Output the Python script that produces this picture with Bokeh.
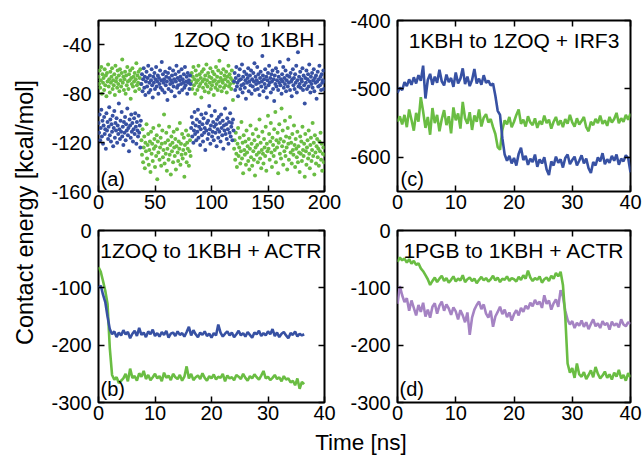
import math
from bokeh.plotting import figure
from bokeh.models import Label, Range1d, LinearAxis, FixedTicker, CustomJSTickFormatter
from bokeh.layouts import row, column
from bokeh.embed import file_html
from bokeh.resources import INLINE

FONT = "Liberation Sans"
BLUE = "#3751a3"
GREEN = "#6abd43"
PURPLE = "#a583c3"

# ---------------- data ----------------
# (a) 1ZOQ to 1KBH, sampled every 0.5 ns from 0 to 200 ns
a_step = 0.5
a_green = [
    -66,-72,-61,-75,-69,-58,-80,-64,-71,-67,-77,-60,-73,-65,-82,-63,-70,-56,-74,-68,
    -79,-62,-71,-66,-59,-76,-69,-73,-64,-81,-57,-70,-67,-75,-61,-72,-65,-78,-60,-69,
    -74,-63,-52,-71,-66,-77,-68,-62,-80,-65,-73,-58,-70,-76,-64,-69,-61,-84,-67,-72,
    -59,-74,-66,-70,-63,-78,-68,-55,-73,-65,-71,-62,-76,-67,-60,-72,
    -118,-130,-109,-136,-124,-115,-141,-120,-127,-105,-133,-122,-113,-138,-126,-119,-144,-111,-129,-121,
    -135,-108,-125,-117,-140,-123,-131,-114,-150,-119,-128,-106,-134,-124,-116,-139,-121,-110,-132,-126,
    -97,-137,-120,-129,-112,-143,-125,-118,-134,-107,-130,-122,-146,-115,-127,-120,-136,-111,-124,-131,
    -117,-142,-123,-109,-128,-135,-119,-125,-104,-138,-121,-130,-113,-133,-126,-116,-148,-122,-129,-110,
    -136,-120,-125,-114,-139,-127,-118,-131,
    -70,-63,-76,-66,-58,-73,-68,-80,-61,-71,-65,-77,-69,-57,-74,-64,-72,-67,-83,-62,
    -70,-75,-60,-68,-78,-65,-72,-56,-69,-74,-63,-79,-66,-71,-59,-76,-67,-73,-62,-70,
    -81,-64,-69,-75,-58,-72,-66,-77,-61,-70,-53,-74,-67,-63,-78,-69,-71,-60,-75,-65,
    -68,-73,-62,-79,-66,-70,-57,-74,-64,-72,-67,-76,-61,-69,-85,-71,
    -125,-118,-134,-112,-129,-140,-121,-108,-131,-124,-116,-137,-127,-103,-133,-120,-145,-114,-126,-130,
    -119,-138,-110,-128,-123,-135,-117,-142,-125,-106,-132,-121,-139,-113,-127,-134,-118,-147,-124,-109,
    -130,-122,-136,-115,-128,-101,-133,-120,-141,-126,-111,-129,-137,-117,-124,-131,-107,-143,-121,-127,
    -98,-125,-113,-134,-119,-104,-128,-140,-116,-122,-131,-109,-126,-95,-136,-118,-124,-112,-145,-120,
    -105,-129,-117,-133,-92,-123,-110,-138,-119,-127,-102,-131,-115,-124,-142,-108,-121,-134,-116,-99,
    -128,-120,-137,-113,-126,-130,-106,-122,-140,-117,-125,-132,-111,-136,-123,-128,-144,-115,-129,-119,
    -135,-107,-126,-131,-121,-148,-113,-127,-138,-124,-118,-133,-110,-129,-141,-122,-116,-135,-126,-104,
    -131,-120,-146,-114,-128,-137,-123,-117,-132,-125,-139,-119,-127,-112,-134,-121,-143,-129,-124,-136,
    -130,
]
a_blue = [
    -104,-112,-97,-118,-108,-93,-115,-102,-121,-106,-99,-113,-109,-125,-96,-110,-103,-117,-107,-91,
    -114,-101,-119,-105,-111,-98,-123,-108,-94,-116,-104,-110,-100,-120,-106,-113,-88,-109,-117,-102,
    -111,-95,-115,-107,-122,-103,-112,-99,-118,-105,-110,-92,-114,-108,-127,-101,-106,-116,-97,-111,
    -104,-119,-109,-100,-113,-96,-107,-121,-103,-110,-115,-98,-112,-106,-124,-102,
    -72,-64,-78,-68,-59,-75,-66,-81,-70,-62,-74,-67,-57,-79,-71,-65,-77,-69,-60,-73,
    -83,-66,-71,-63,-76,-68,-58,-74,-70,-65,-80,-67,-72,-61,-75,-69,-54,-77,-64,-71,
    -68,-79,-62,-73,-66,-70,-85,-63,-76,-67,-59,-72,-69,-78,-65,-71,-61,-74,-68,-82,
    -64,-70,-57,-75,-67,-73,-62,-79,-69,-66,-72,-60,-77,-68,-71,-64,-75,-58,-73,-70,
    -66,-80,-63,-71,-69,-76,-65,-72,
    -108,-99,-115,-104,-120,-110,-95,-113,-106,-118,-101,-111,-93,-116,-107,-103,-122,-109,-97,-114,
    -105,-119,-100,-112,-108,-126,-96,-110,-104,-117,-102,-113,-90,-109,-121,-106,-98,-115,-111,-103,
    -118,-107,-94,-112,-105,-123,-101,-109,-116,-99,-111,-104,-119,-97,-108,-114,-102,-125,-106,-110,
    -92,-113,-105,-117,-100,-109,-121,-103,-112,-96,-115,-107,-104,-118,-101,-110,
    -70,-63,-77,-67,-58,-74,-71,-82,-65,-69,-60,-76,-68,-73,-56,-79,-66,-72,-62,-75,
    -69,-84,-64,-71,-67,-59,-78,-70,-65,-73,-61,-80,-68,-74,-63,-70,-55,-77,-66,-72,
    -69,-58,-76,-64,-71,-81,-67,-62,-74,-70,-49,-65,-78,-68,-72,-60,-75,-66,-83,-69,
    -63,-73,-57,-71,-67,-79,-64,-70,-61,-76,-68,-86,-65,-72,-59,-74,-69,-62,-77,-66,
    -71,-54,-73,-68,-80,-64,-70,-58,-75,-67,-72,-61,-78,-69,-65,-74,-52,-71,-66,-77,
    -63,-70,-82,-68,-60,-73,-67,-76,-64,-71,-57,-79,-69,-46,-74,-66,-72,-62,-75,-68,
    -70,-59,-77,-65,-73,-88,-67,-71,-61,-76,-68,-64,-74,-56,-70,-79,-66,-72,-63,-75,
    -69,-60,-78,-67,-71,-65,-84,-70,-62,-74,-68,-57,-73,-66,-77,-64,-71,-69,-61,-76,
    -70,
]

# (b), (c), (d): sampled every 0.4 ns
line_step = 0.4
c_blue = [
    -506,-498,-502,-490,-496,-486,-494,-483,-492,-480,-488,-466,-514,-487,-478,-494,-482,-491,-472,-489,
    -495,-479,-490,-484,-497,-476,-492,-485,-470,-493,-482,-496,-487,-471,-492,-485,-494,-480,-491,-488,
    -495,-492,-510,-532,-538,-572,-596,-605,-598,-609,-601,-612,-595,-586,-604,-598,-611,-602,-607,-596,
    -614,-603,-609,-600,-618,-626,-606,-612,-599,-608,-603,-615,-601,-596,-610,-604,-599,-612,-605,-597,
    -609,-602,-616,-623,-607,-612,-600,-606,-594,-610,-603,-608,-598,-605,-596,-611,-602,-606,-597,-601,
    -622,
]
c_green = [
    -548,-540,-552,-538,-556,-530,-545,-561,-535,-548,-512,-533,-557,-541,-567,-528,-550,-538,-562,-544,
    -531,-553,-540,-565,-527,-546,-536,-558,-519,-543,-551,-534,-560,-539,-548,-530,-555,-542,-537,-549,
    -544,-556,-566,-585,-589,-560,-546,-552,-541,-556,-548,-538,-530,-551,-545,-555,-540,-549,-553,-543,
    -557,-547,-552,-539,-550,-545,-558,-548,-541,-553,-546,-556,-544,-551,-538,-549,-555,-543,-552,-547,
    -541,-556,-562,-548,-553,-544,-550,-539,-551,-546,-554,-541,-549,-544,-535,-550,-543,-548,-538,-545,
    -536,
]
b_blue = [
    -100,-96,-112,-125,-150,-172,-181,-176,-186,-178,-183,-174,-181,-177,-188,-180,-175,-184,-170,-182,
    -178,-186,-176,-181,-173,-184,-179,-185,-177,-182,-175,-187,-180,-178,-184,-176,-182,-179,-185,-177,
    -168,-183,-174,-181,-186,-178,-182,-176,-184,-180,-187,-179,-183,-164,-178,-185,-180,-176,-183,-178,
    -186,-181,-175,-183,-179,-185,-177,-182,-187,-178,-181,-175,-184,-179,-183,-176,-181,-172,-184,-178,
    -186,-180,-177,-183,-188,-179,-182,-176,-185,-180,-183,-181,
]
b_green = [
    -64,-72,-88,-105,-128,-205,-252,-260,-256,-266,-262,-258,-250,-263,-241,-257,-254,-262,-249,-255,
    -245,-259,-252,-261,-256,-250,-258,-254,-263,-248,-257,-253,-261,-250,-256,-259,-252,-262,-255,-237,
    -258,-250,-261,-256,-253,-259,-249,-257,-262,-254,-258,-251,-260,-255,-257,-250,-263,-253,-258,-256,
    -261,-252,-255,-259,-250,-257,-262,-254,-258,-251,-256,-260,-253,-245,-258,-255,-261,-257,-252,-259,
    -256,-263,-254,-260,-258,-265,-262,-270,-258,-276,-264,-268,
]
d_green = [
    -55,-47,-52,-49,-56,-50,-58,-53,-60,-57,-66,-71,-78,-85,-95,-88,-82,-90,-84,-79,
    -88,-83,-91,-86,-80,-89,-84,-87,-78,-90,-85,-82,-88,-84,-92,-86,-81,-87,-83,-89,
    -85,-79,-87,-82,-90,-84,-86,-80,-88,-83,-85,-89,-81,-86,-78,-84,-70,-82,-88,-83,
    -86,-80,-91,-85,-82,-88,-79,-84,-74,-80,-72,-95,-150,-232,-248,-240,-257,-232,-251,-255,
    -247,-259,-252,-244,-256,-238,-250,-258,-253,-246,-257,-251,-260,-248,-255,-243,-258,-252,-262,-249,
    -256,
]
d_purple = [
    -128,-97,-113,-125,-118,-140,-122,-135,-148,-130,-142,-126,-150,-138,-152,-133,-127,-145,-131,-124,
    -140,-129,-136,-147,-134,-141,-155,-139,-148,-160,-143,-182,-152,-138,-130,-124,-137,-129,-145,-152,
    -140,-168,-150,-142,-133,-146,-138,-151,-143,-157,-146,-139,-148,-135,-142,-131,-137,-126,-132,-121,
    -129,-124,-135,-113,-128,-122,-138,-127,-120,-133,-104,-115,-140,-156,-164,-158,-170,-161,-166,-157,
    -168,-160,-172,-163,-155,-167,-162,-170,-158,-165,-161,-173,-159,-166,-162,-169,-155,-164,-167,-160,
    -163,
]

a_xticks = [0, 50, 100, 150, 200]
a_yticks = [-160, -120, -80, -40]
c_xticks = [0, 10, 20, 30, 40]
c_yticks = [-600, -500, -400]
bd_xticks = [0, 10, 20, 30, 40]
bd_yticks = [-300, -200, -100, 0]


def times(vals, step):
    return [i * step for i in range(len(vals))]


# ---------------- styling helpers ----------------
def style_axis(ax, ticks, standoff):
    ax.ticker = FixedTicker(ticks=ticks)
    ax.formatter = CustomJSTickFormatter(code="return String(tick)")
    ax.major_label_text_font = FONT
    ax.major_label_text_font_size = "20px"
    ax.major_label_text_color = "black"
    ax.major_label_standoff = standoff
    ax.major_tick_in = 6
    ax.major_tick_out = 0
    ax.major_tick_line_width = 1.5
    ax.major_tick_line_color = "black"
    ax.minor_tick_line_color = None
    ax.axis_line_color = None


def mirror(p, ticks, side):
    ax = LinearAxis(ticker=FixedTicker(ticks=ticks),
                    formatter=CustomJSTickFormatter(code="return ''"),
                    major_label_text_font_size="0px", major_label_standoff=0,
                    major_tick_in=6, major_tick_out=0, major_tick_line_width=1.5,
                    major_tick_line_color="black",
                    minor_tick_line_color=None, axis_line_color=None)
    p.add_layout(ax, side)


def panel(width, height, bl, br, bt, bb, xr, yr, xt, yt):
    p = figure(width=width, height=height, x_range=Range1d(*xr), y_range=Range1d(*yr),
               min_border_left=bl, min_border_right=br, min_border_top=bt, min_border_bottom=bb,
               output_backend="svg", toolbar_location=None)
    p.grid.visible = False
    p.outline_line_color = "black"
    p.outline_line_width = 2
    p.background_fill_color = "white"
    p.border_fill_color = "white"
    style_axis(p.xaxis[0], xt, 3)
    style_axis(p.yaxis[0], yt, 7)
    mirror(p, xt, "above")
    mirror(p, yt, "right")
    return p


def title(p, text, x, y, align, xoff, yoff):
    p.add_layout(Label(x=x, y=y, text=text, text_align=align, text_baseline="alphabetic",
                       x_offset=xoff, y_offset=yoff, text_font=FONT, text_font_size="21px",
                       text_color="black"))


def tag(p, text, x, y, xoff, yoff):
    p.add_layout(Label(x=x, y=y, text=text, text_align="left", text_baseline="alphabetic",
                       x_offset=xoff, y_offset=yoff, text_font=FONT, text_font_size="20px",
                       text_color="black"))


# ---------------- panels ----------------
pa = panel(298, 220, 48, 22, 20, 29, (0, 200), (-160, -20), a_xticks, a_yticks)
pa.scatter(times(a_green, a_step), a_green, size=4, fill_color=GREEN, line_color=None)
pa.scatter(times(a_blue, a_step), a_blue, size=4, fill_color=BLUE, line_color=None)
title(pa, "1ZOQ to 1KBH", 200, -20, "right", -10, -19)
tag(pa, "(a)", 0, -160, 2, 13)

pc = panel(298, 220, 51, 14, 20, 29, (0, 40), (-650, -400), c_xticks, c_yticks)
pc.line(times(c_green, line_step), c_green, line_color=GREEN, line_width=2.6)
pc.line(times(c_blue, line_step), c_blue, line_color=BLUE, line_width=2.6)
title(pc, "1KBH to 1ZOQ + IRF3", 20, -400, "center", 0, -20)
tag(pc, "(c)", 0, -650, 3, 13)

pb = panel(298, 210, 48, 22, 10, 28, (0, 40), (-300, 0), bd_xticks, bd_yticks)
pb.line(times(b_green, line_step), b_green, line_color=GREEN, line_width=2.6)
pb.line(times(b_blue, line_step), b_blue, line_color=BLUE, line_width=2.6)
title(pb, "1ZOQ to 1KBH + ACTR", 20, 0, "center", 0, -20)
tag(pb, "(b)", 0, -300, 2, 14)

pd = panel(298, 210, 51, 14, 10, 28, (0, 40), (-300, 0), bd_xticks, bd_yticks)
pd.line(times(d_purple, line_step), d_purple, line_color=PURPLE, line_width=2.6)
pd.line(times(d_green, line_step), d_green, line_color=GREEN, line_width=2.6)
title(pd, "1PGB to 1KBH + ACTR", 20, 0, "center", 0, -20)
tag(pd, "(d)", 0, -300, 2, 14)


def blank(w, h):
    f = figure(width=w, height=h, x_range=Range1d(0, w), y_range=Range1d(0, h),
               x_axis_type=None, y_axis_type=None, min_border_left=0, min_border_right=0,
               min_border_top=0, min_border_bottom=0, output_backend="svg",
               toolbar_location=None)
    f.grid.visible = False
    f.outline_line_color = None
    f.background_fill_color = "white"
    f.border_fill_color = "white"
    return f


ylab = blank(48, 456)
ylab.add_layout(Label(x=24, y=244, text="Contact energy [kcal/mol]", angle=math.pi / 2,
                      text_align="center", text_baseline="alphabetic", text_font=FONT,
                      text_font_size="23.5px", text_color="black"))

xlab = blank(596, 26)
xlab.add_layout(Label(x=312.5, y=14.5, text="Time [ns]", text_align="center",
                      text_baseline="alphabetic", text_font=FONT, text_font_size="22.5px",
                      text_color="black"))

layout = row(ylab, column(row(pa, pc), row(pb, pd), xlab))

open("out.html", "w").write(file_html(layout, INLINE))
